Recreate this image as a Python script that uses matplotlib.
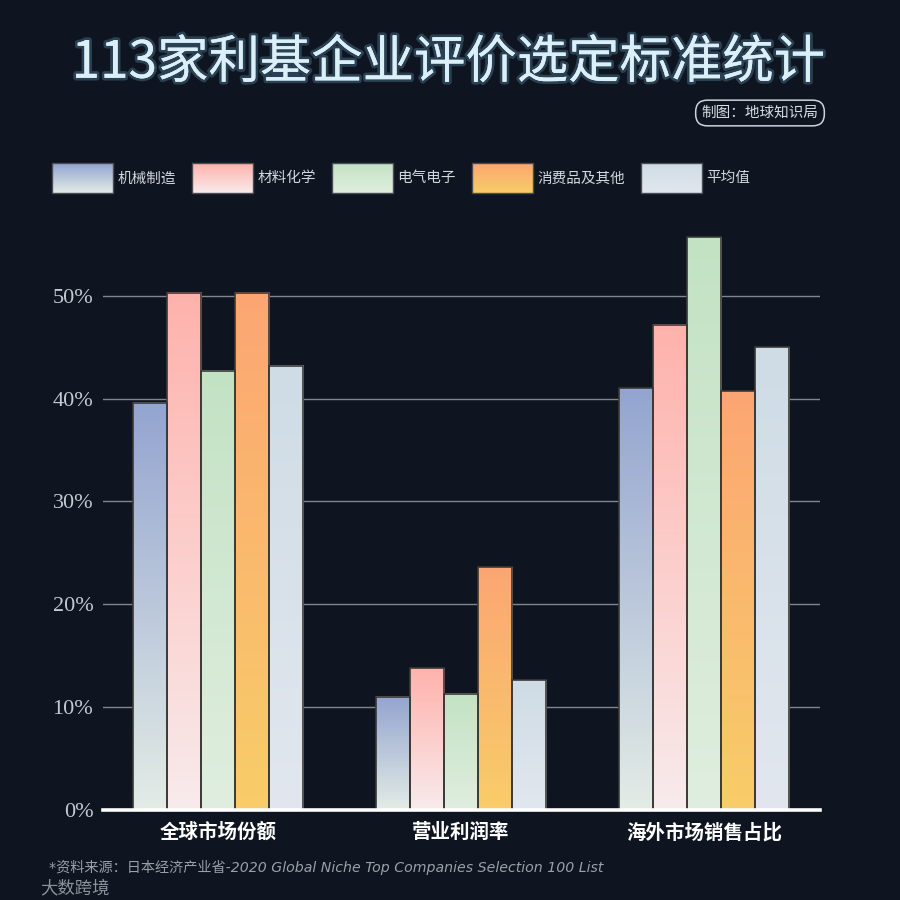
import numpy as np
import matplotlib
matplotlib.use("Agg")
import matplotlib.pyplot as plt
from matplotlib.patches import Rectangle
from matplotlib.legend_handler import HandlerBase
from matplotlib.image import BboxImage
from matplotlib.transforms import Bbox, TransformedBbox
from matplotlib import colors as mcolors
import matplotlib.patheffects as pe

plt.rcParams['font.family'] = ['Noto Sans CJK SC', 'DejaVu Sans']

# ---------------- data ----------------
categories = ['全球市场份额', '营业利润率', '海外市场销售占比']
series_names = ['机械制造', '材料化学', '电气电子', '消费品及其他', '平均值']
machinery = [39.6, 11.0, 41.0]
materials = [50.3, 13.8, 47.2]
electrical = [42.7, 11.3, 55.7]
consumer = [50.3, 23.6, 40.7]
average = [43.2, 12.6, 45.0]
yticks = [0, 10, 20, 30, 40, 50]
ytick_labels = ['0%', '10%', '20%', '30%', '40%', '50%']
title = '113家利基企业评价选定标准统计'
credit = '制图：地球知识局'
source = '*资料来源：日本经济产业省-2020 Global Niche Top Companies Selection 100 List'

series_values = [machinery, materials, electrical, consumer, average]
# gradient colours (top, bottom)
grads = [
    ('#93a4d0', '#e3ece6'),
    ('#ffb2ac', '#f8ebec'),
    ('#c3e2c4', '#e0eedf'),
    ('#fca673', '#f8cd68'),
    ('#cfdce5', '#e2e7ef'),
]

BG = '#0f1520'


def grad_array(top, bottom, n=256):
    t = np.array(mcolors.to_rgba(top))
    b = np.array(mcolors.to_rgba(bottom))
    f = np.linspace(0, 1, n)[:, None]
    arr = t[None, :] * (1 - f) + b[None, :] * f
    return arr[:, None, :]


class GradientHandler(HandlerBase):
    def __init__(self, top, bottom):
        super().__init__()
        self.top = top
        self.bottom = bottom

    def create_artists(self, legend, orig_handle, xdescent, ydescent,
                       width, height, fontsize, trans):
        bb = TransformedBbox(Bbox.from_bounds(-xdescent, -ydescent, width, height), trans)
        img = BboxImage(bb, interpolation='bilinear')
        img.set_data(grad_array(self.top, self.bottom))
        rect = Rectangle((-xdescent, -ydescent), width, height, facecolor='none',
                         edgecolor='#4a4d55', linewidth=1.0, transform=trans)
        return [img, rect]


fig = plt.figure(figsize=(9, 9), dpi=100, facecolor=BG)
ax = fig.add_axes([0.1145, 0.1, 0.7967, 0.6856])
ax.set_facecolor(BG)

x = np.arange(len(categories))
bw = 0.14
n = len(series_values)
for i, (vals, (ct, cb)) in enumerate(zip(series_values, grads)):
    offs = (i - (n - 1) / 2) * bw
    bars = ax.bar(x + offs, vals, width=bw, facecolor='none',
                  edgecolor='#3a3835', linewidth=1.2, zorder=3)
    for p in bars.patches:
        x0 = p.get_x()
        x1 = x0 + p.get_width()
        h = p.get_height()
        ax.imshow(grad_array(ct, cb), extent=[x0, x1, 0, h], aspect='auto',
                  interpolation='bilinear', zorder=2, origin='upper')

ax.set_xlim(-0.473, 2.477)
ax.set_ylim(0, 60)
ax.set_yticks(yticks)
ax.set_yticklabels(ytick_labels, fontfamily='Liberation Serif', fontsize=16, color='#c5cad2')
ax.set_xticks(x)
ax.set_xticklabels(categories, fontsize=14, fontweight='bold', color='#ffffff')
ax.tick_params(axis='both', length=0)
ax.tick_params(axis='y', pad=7)
ax.tick_params(axis='x', pad=9)
ax.yaxis.grid(True, color='#80858e', linewidth=1.0, zorder=1)
ax.set_axisbelow(True)
for s in ['top', 'right', 'left']:
    ax.spines[s].set_visible(False)
ax.spines['bottom'].set_color('white')
ax.spines['bottom'].set_linewidth(2.6)
ax.spines['bottom'].set_zorder(5)

# legend
handles = [Rectangle((0, 0), 1, 1) for _ in series_names]
hmap = {h: GradientHandler(t, b) for h, (t, b) in zip(handles, grads)}
leg = fig.legend(handles, series_names, handler_map=hmap, loc='center left',
                 bbox_to_anchor=(52 / 900, 1 - 178 / 900), ncol=5, frameon=False,
                 fontsize=10.5, handlelength=4.18, handleheight=2.7, handletextpad=0.3,
                 columnspacing=1.1, borderpad=0, borderaxespad=0)
for t in leg.get_texts():
    t.set_color('#d3d7dd')

# title
fig.text(0.498, 1 - 63 / 900, title, ha='center', va='center', fontsize=37,
         fontweight='medium', color='#dbeff9',
         path_effects=[pe.withStroke(linewidth=4, foreground='#5f93b3', alpha=0.35), pe.Normal()])

# credit badge
fig.text(760 / 900, 1 - 113 / 900, credit, ha='center', va='center', fontsize=10.5,
         color='#d8dce2',
         bbox=dict(boxstyle='round,pad=0.4,rounding_size=0.8', facecolor='none',
                   edgecolor='#cfd3d9', linewidth=1.1))

# source
fig.text(49 / 900, 1 - 867 / 900, source, ha='left', va='center', fontsize=10.2,
         style='italic', color='#9aa0a8', family=['DejaVu Sans', 'Noto Sans CJK SC'])

# logo watermark text
fig.text(40 / 900, 1 - 888 / 900, '大数跨境', ha='left', va='center', fontsize=12.5,
         color='#8e939b')

fig.savefig('out.png', dpi=100, facecolor=BG)
